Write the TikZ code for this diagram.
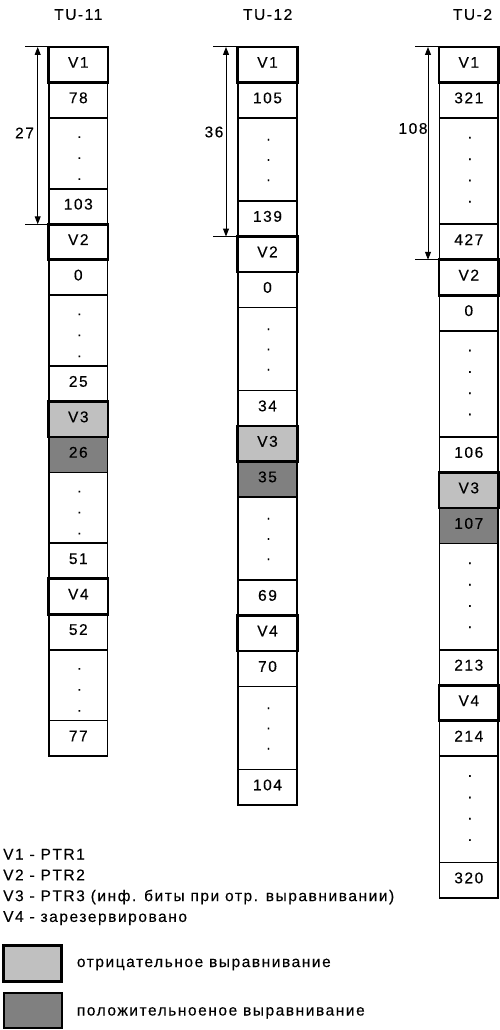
\documentclass[tikz,border=0pt]{standalone}
\usepackage{fontspec}
\usetikzlibrary{arrows.meta}
\newfontfamily\lsfont{Liberation Sans}[LetterSpace=10,FakeBold=0.3]
\newfontfamily\plainfont{Liberation Sans}[FakeBold=0.3]
\definecolor{lightg}{HTML}{C0C0C0}
\definecolor{darkg}{HTML}{808080}
\tikzset{
  every node/.style={font=\lsfont\fontsize{15.5}{17}\selectfont},
  cell/.style={draw, line width=1.7pt, minimum width=58.5pt, inner sep=0pt, outer sep=0pt,
    anchor=north, text height=11pt, text depth=5pt},
  u1/.style={cell, minimum height=35.45pt},
  u2/.style={cell, minimum height=35.5pt},
  vbox/.style={line width=2.8pt, minimum width=59.5pt},
  lgt/.style={fill=lightg},
  drk/.style={fill=darkg},
  dotnode/.style={inner sep=0pt, anchor=base, font=\plainfont\fontsize{15}{16}\selectfont},
  dim/.style={line width=1pt, {Triangle[length=8pt,width=6pt]}-{Triangle[length=8pt,width=6pt]}},
  tick/.style={line width=1pt},
  lbl/.style={inner sep=0pt},
  legtxt/.style={inner sep=0pt, anchor=base west},
}
\begin{document}
\begin{tikzpicture}[x=1pt,y=-1pt]
\useasboundingbox (0,0) rectangle (500,1030);
% titles
\node[lbl] (t1) at (78.3,14.5) {TU-11};
\node[lbl] (t2) at (267.7,14.5) {TU-12};
\node[lbl] (t3) at (472.5,14.5) {TU-2};
% ---------- column 1
\node[u1] (c1b) at (78.3,82.45) {78};
\node[u1, minimum height=70.9pt] (c1c) at (78.3,117.9) {};
\node[u1] (c1d) at (78.3,188.8) {103};
\node[u1] (c1f) at (78.3,259.7) {0};
\node[u1, minimum height=70.9pt] (c1g) at (78.3,295.15) {};
\node[u1] (c1h) at (78.3,366.05) {25};
\node[u1, drk] (c1j) at (78.3,436.95) {26};
\node[u1, minimum height=70.9pt] (c1k) at (78.3,472.4) {};
\node[u1] (c1l) at (78.3,543.3) {51};
\node[u1] (c1n) at (78.3,614.2) {52};
\node[u1, minimum height=70.9pt] (c1o) at (78.3,649.65) {};
\node[u1] (c1p) at (78.3,720.55) {77};
\node[u1, vbox] (c1a) at (78.3,47) {V1};
\node[u1, vbox] (c1e) at (78.3,224.25) {V2};
\node[u1, vbox, lgt] (c1i) at (78.3,401.5) {V3};
\node[u1, vbox] (c1m) at (78.3,578.75) {V4};
\foreach \t [count=\i] in {117.9,295.15,472.4,649.65}
  \foreach \k [count=\j] in {19,40,61}
    \node[dotnode] (p1-\i-\j) at (79.3,{\t+\k+1}) {.};
% ---------- column 2
\node[u2] (c2b) at (267.5,82.5) {105};
\node[u2, minimum height=83pt] (c2c) at (267.5,118) {};
\node[u2] (c2d) at (267.5,201) {139};
\node[u2] (c2f) at (267.5,272) {0};
\node[u2, minimum height=83pt] (c2g) at (267.5,307.5) {};
\node[u2] (c2h) at (267.5,390.5) {34};
\node[u2, drk] (c2j) at (267.5,461.5) {35};
\node[u2, minimum height=83pt] (c2k) at (267.5,497) {};
\node[u2] (c2l) at (267.5,580) {69};
\node[u2] (c2n) at (267.5,651) {70};
\node[u2, minimum height=83pt] (c2o) at (267.5,686.5) {};
\node[u2] (c2p) at (267.5,769.5) {104};
\node[u2, vbox] (c2a) at (267.5,47) {V1};
\node[u2, vbox] (c2e) at (267.5,236.5) {V2};
\node[u2, vbox, lgt] (c2i) at (267.5,426) {V3};
\node[u2, vbox] (c2m) at (267.5,615.5) {V4};
\foreach \t [count=\i] in {118,307.5,497,686.5}
  \foreach \k [count=\j] in {21.5,41.8,62}
    \node[dotnode] (p2-\i-\j) at (268.5,{\t+\k+1}) {.};
% ---------- column 3
\node[u2] (c3b) at (468.8,82.5) {321};
\node[u2, minimum height=106.25pt] (c3c) at (468.8,118) {};
\node[u2] (c3d) at (468.8,224.25) {427};
\node[u2] (c3f) at (468.8,295.25) {0};
\node[u2, minimum height=106.25pt] (c3g) at (468.8,330.75) {};
\node[u2] (c3h) at (468.8,437) {106};
\node[u2, drk] (c3j) at (468.8,508) {107};
\node[u2, minimum height=106.25pt] (c3k) at (468.8,543.5) {};
\node[u2] (c3l) at (468.8,649.75) {213};
\node[u2] (c3n) at (468.8,720.75) {214};
\node[u2, minimum height=106.25pt] (c3o) at (468.8,756.25) {};
\node[u2] (c3p) at (468.8,862.5) {320};
\node[u2, vbox] (c3a) at (468.8,47) {V1};
\node[u2, vbox] (c3e) at (468.8,259.75) {V2};
\node[u2, vbox, lgt] (c3i) at (468.8,472.5) {V3};
\node[u2, vbox] (c3m) at (468.8,685.25) {V4};
\foreach \t [count=\i] in {118,330.75,543.5,756.25}
  \foreach \k [count=\j] in {19.5,41,62.3,83.6}
    \node[dotnode] (p3-\i-\j) at (469.8,{\t+\k+1}) {.};
% ---------- dimensions
\coordinate (k1t) at (25,47);
\coordinate (k1b) at (25,224.25);
\coordinate (m1t) at (37.7,47);
\coordinate (m1b) at (37.7,224.25);
\draw[tick] (k1t) -- (c1a.north west);
\draw[tick] (k1b) -- (c1e.north west);
\draw[dim] (m1t) -- (m1b);
\node[lbl] (n1) at (24.5,133) {27};
\coordinate (k2t) at (213,47);
\coordinate (k2b) at (213,236.5);
\coordinate (m2t) at (226,47);
\coordinate (m2b) at (226,236.5);
\draw[tick] (k2t) -- (c2a.north west);
\draw[tick] (k2b) -- (c2e.north west);
\draw[dim] (m2t) -- (m2b);
\node[lbl] (n2) at (214,132) {36};
\coordinate (k3t) at (415,47);
\coordinate (k3b) at (415,259.75);
\coordinate (m3t) at (428,47);
\coordinate (m3b) at (428,259.75);
\draw[tick] (k3t) -- (c3a.north west);
\draw[tick] (k3b) -- (c3e.north west);
\draw[dim] (m3t) -- (m3b);
\node[lbl] (n3) at (413,128.5) {108};
% ---------- legend
\node[legtxt] (l1) at (3,859.5) {V1 - PTR1};
\node[legtxt] (l2) at (3,880.3) {V2 - PTR2};
\node[legtxt] (l3) at (3,901.1) {V3 - PTR3 (инф. биты при отр. выравнивании)};
\node[legtxt] (l4) at (3,921.9) {V4 - зарезервировано};
\node[draw, fill=lightg, line width=3pt, minimum width=58pt, minimum height=35.5pt, inner sep=0pt, outer sep=0pt] (b1) at (32.5,963.3) {};
\node[draw, fill=darkg, line width=2pt, minimum width=58pt, minimum height=35.3pt, inner sep=0pt, outer sep=0pt] (b2) at (32.5,1010.4) {};
\node[legtxt] (lt1) at (76.7,967) {отрицательное выравнивание};
\node[legtxt] (lt2) at (76.7,1015.5) {положительноеное выравнивание};
\end{tikzpicture}
\end{document}
